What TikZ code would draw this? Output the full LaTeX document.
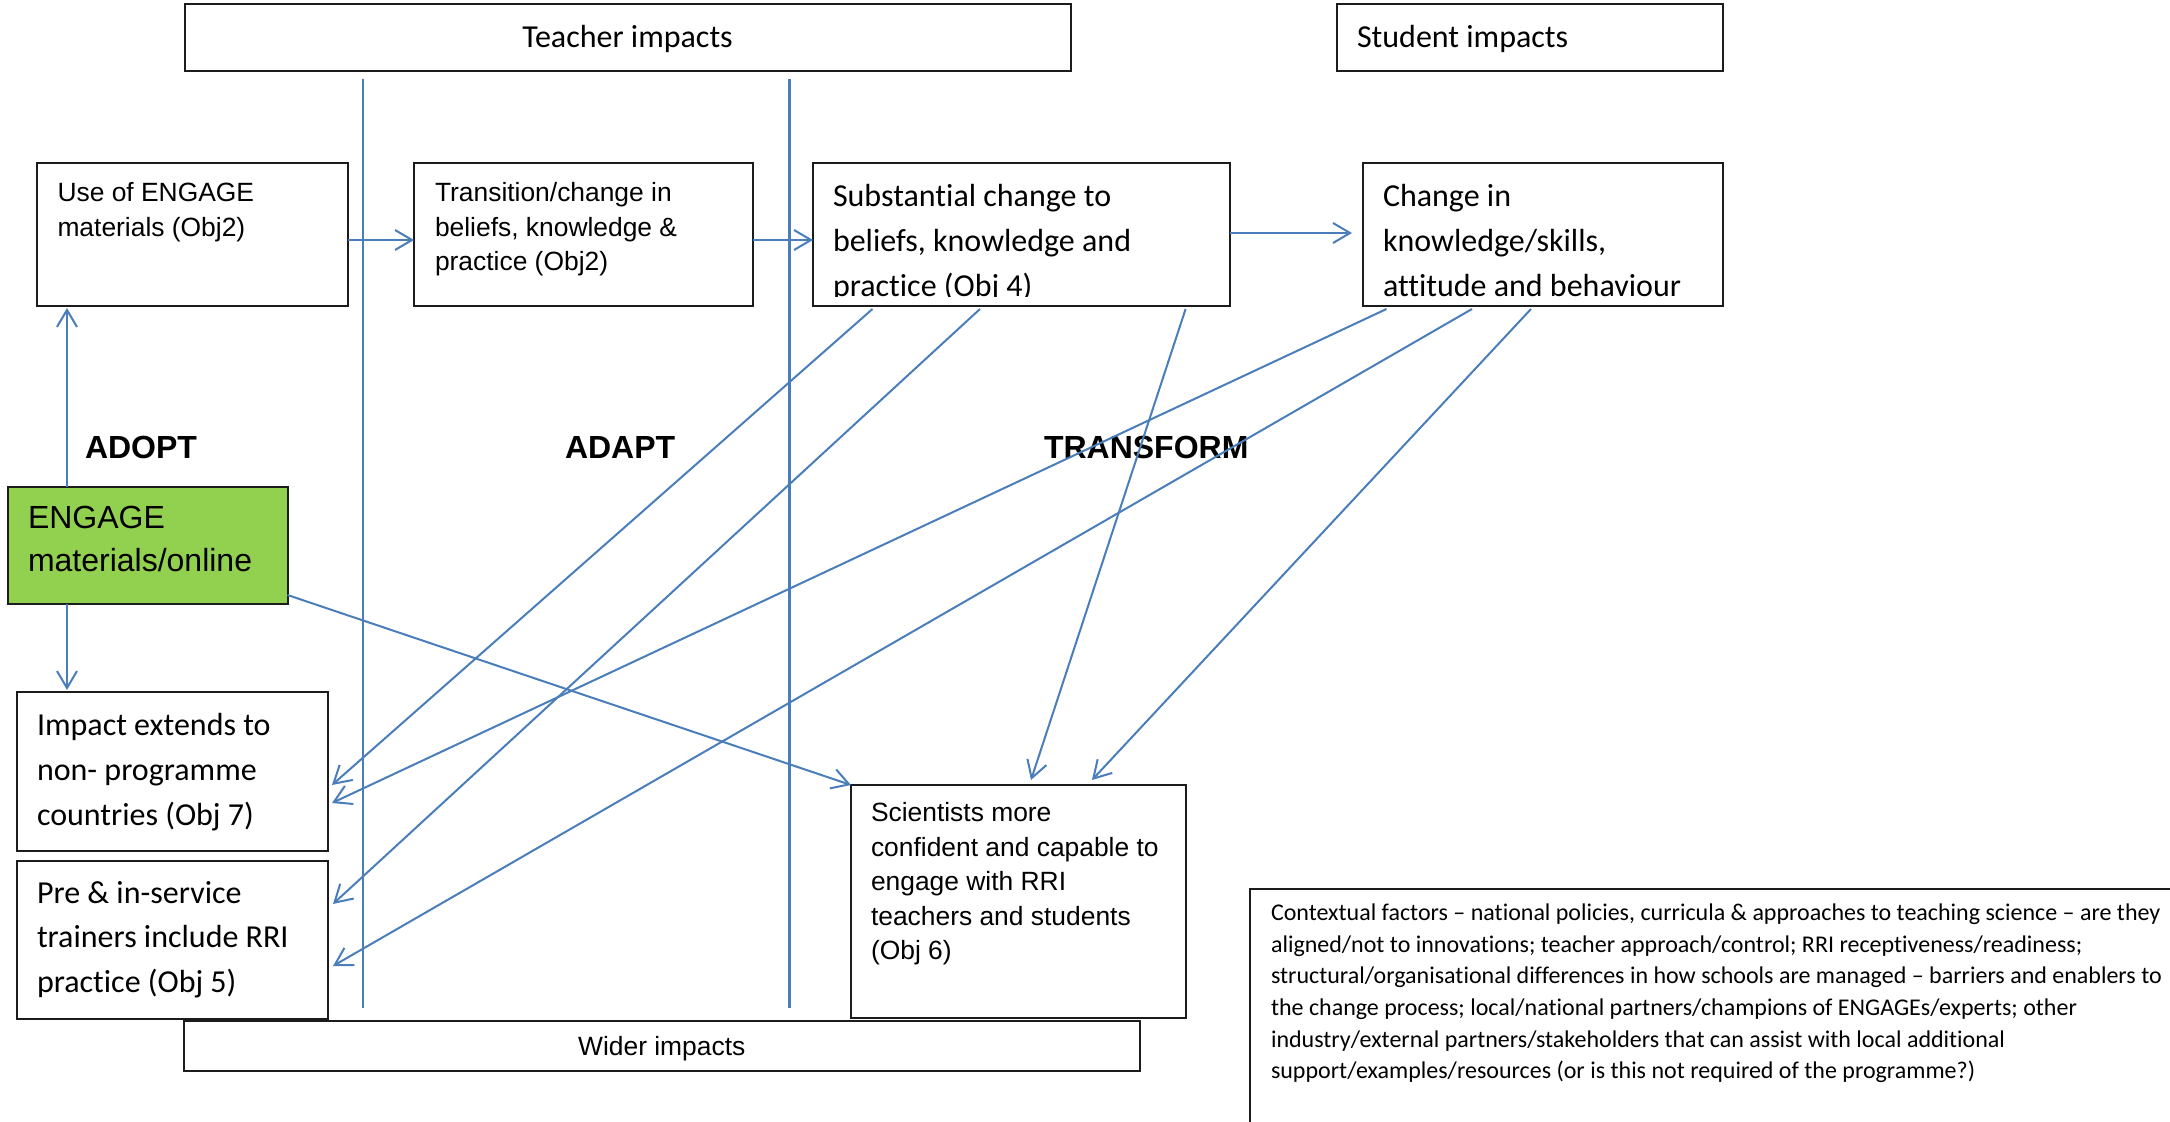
\documentclass[tikz,border=0pt]{standalone}
\usepackage{fontspec}
\setmainfont{Liberation Sans}
\newfontfamily\calfont[Ligatures={NoCommon,TeX}]{Carlito}
\newfontfamily\arfont{Liberation Sans}
\usetikzlibrary{arrows.meta,calc,fit}

\definecolor{linkblue}{RGB}{74,126,187}
\definecolor{engagegreen}{RGB}{146,208,80}
\definecolor{frameline}{RGB}{28,28,28}

% multi-line text whose reference point is the first baseline
\newcommand\txtlines[1]{\parbox[t]{600pt}{\raggedright #1}}

\begin{document}
\begin{tikzpicture}[x=0.5pt,y=-0.5pt,
  box/.style={draw=frameline, line width=1pt, fill=white, inner sep=0pt, outer sep=0pt},
  greenbox/.style={box, fill=engagegreen},
  conn/.style={draw=linkblue, line width=1pt, -{Straight Barb[length=8.5pt,width=10pt,line width=1pt]}},
  divider/.style={draw=linkblue, line width=1.3pt},
  txt/.style={anchor=base west, inner sep=0pt, outer sep=0pt},
  ctxt/.style={anchor=base, inner sep=0pt, outer sep=0pt},
  calL/.style={font=\calfont\fontsize{16pt}{22.4pt}\selectfont},
  arS/.style={font=\arfont\fontsize{13.2pt}{17.3pt}\selectfont},
  arL/.style={font=\arfont\fontsize{16pt}{21.7pt}\selectfont},
  phase/.style={font=\arfont\bfseries\fontsize{16pt}{19pt}\selectfont},
  ctxfont/.style={font=\calfont\fontsize{12pt}{15.75pt}\selectfont}
]
\useasboundingbox (0,0) rectangle (2170,1122);
\fill[white] (0,0) rectangle (2170,1122);
\clip (0,0) rectangle (2170,1122);

% phase dividers
\draw[divider] (363,79) -- (363,1008);
\draw[divider] (789.5,79) -- (789.5,1008);

% header boxes
\node[box, fit={(184.5,4.5) (1070.5,71.5)}] (teach) {};
\node[box, fit={(1337,4.5) (1723,71.5)}] (stud) {};

% teacher / student change boxes
\node[box, fit={(36.5,163) (348,306)}] (use) {};
\node[box, fit={(414,163) (753,306)}] (trans) {};
\node[box, fit={(813,163) (1230,306)}] (sub) {};
\node[box, fit={(1363,163) (1723,306)}] (chg) {};

% source and wider-impact boxes
\node[greenbox, fit={(7.5,487) (287.5,604)}] (engage) {};
\node[box, fit={(17,692.5) (328,850.5)}] (ext) {};
\node[box, fit={(17,860.5) (328,1019)}] (pre) {};
\node[box, fit={(851,785) (1186,1018)}] (sci) {};
\node[box, fit={(184,1020.5) (1139.5,1071)}] (wider) {};
\node[box, fit={(1249.5,888.5) (2200,1150)}] (ctx) {};

% texts
\node[calL, ctxt] (teachtxt) at (627.5,48) {Teacher impacts};
\node[calL, txt] (studtxt) at (1357,48) {Student impacts};
\node[arS, txt] (usetxt) at (57.5,202) {\txtlines{Use of ENGAGE\\materials (Obj2)}};
\node[arS, txt] (transtxt) at (435,201.5) {\txtlines{Transition/change in\\beliefs, knowledge \&\\practice (Obj2)}};
\begin{scope}
  \clip (813,163) rectangle (1230,297);
  \node[calL, txt] (subtxt) at (833,206.5) {\txtlines{Substantial change to\\beliefs, knowledge and\\practice (Obj 4)}};
\end{scope}
\node[calL, txt] (chgtxt) at (1383,206.5) {\txtlines{Change in\\knowledge/skills,\\attitude and behaviour}};
\node[phase, txt] (adopt) at (85,459) {ADOPT};
\node[phase, txt] (adapt) at (565,459) {ADAPT};
\node[phase, txt] (transform) at (1044,459) {TRANSFORM};
\node[arL, txt] (engagetxt) at (28,528.5) {\txtlines{ENGAGE\\materials/online}};
\node[calL, txt] (exttxt) at (37,736) {\txtlines{Impact extends to\\non- programme\\countries (Obj 7)}};
\node[calL, txt] (pretxt) at (37,903) {\txtlines{Pre \& in-service\\trainers include RRI\\practice (Obj 5)}};
\node[arS, txt] (scitxt) at (871,821.5) {\txtlines{Scientists more\\confident and capable to\\engage with RRI\\teachers and students\\(Obj 6)}};
\node[arS, ctxt] (widertxt) at (661.75,1055) {Wider impacts};
\node[ctxfont, txt] (ctxtxt) at (1271,921) {\txtlines{Contextual factors – national policies, curricula \& approaches to teaching science – are they\\aligned/not to innovations; teacher approach/control; RRI receptiveness/readiness;\\structural/organisational differences in how schools are managed – barriers and enablers to\\the change process; local/national partners/champions of ENGAGEs/experts; other\\industry/external partners/stakeholders that can assist with local additional\\support/examples/resources (or is this not required of the programme?)}};

% progression arrows
\draw[conn] ($(use.east)+(0,5.5)$) -- ($(trans.west)+(0,5.5)$);
\draw[conn] ($(trans.east)+(0,5.5)$) -- ($(sub.west)+(0,5.5)$);
\draw[conn] ($(sub.east)+(0,-1.5)$) -- ($(chg.west)+(-11,-1.5)$);

% arrows out of the ENGAGE materials
\draw[conn] ($(engage.north west)+(59.5,0)$) -- ($(use.south west)+(30.5,2)$);
\draw[conn] ($(engage.south west)+(59.5,0)$) -- ($(ext.north west)+(50,-2.5)$);
\draw[conn] ($(engage.south east)+(0,-9)$) -- (sci.north west);

% arrows from substantial teacher change
\draw[conn] ($(sub.south west)+(59.5,3)$) -- ($(ext.north east)+(4,92.5)$);
\draw[conn] ($(sub.south west)+(167,3)$) -- ($(pre.north east)+(5,43.5)$);
\draw[conn] ($(sub.south west)+(372.6,3)$) -- ($(sci.north west)+(180,-5)$);

% arrows from student change
\draw[conn] ($(chg.south west)+(23.5,3)$) -- ($(ext.north east)+(4,110.5)$);
\draw[conn] ($(chg.south west)+(109,3)$) -- ($(pre.north east)+(5,105.5)$);
\draw[conn] ($(chg.south west)+(168,3)$) -- ($(sci.north west)+(241,-5)$);
\end{tikzpicture}
\end{document}
